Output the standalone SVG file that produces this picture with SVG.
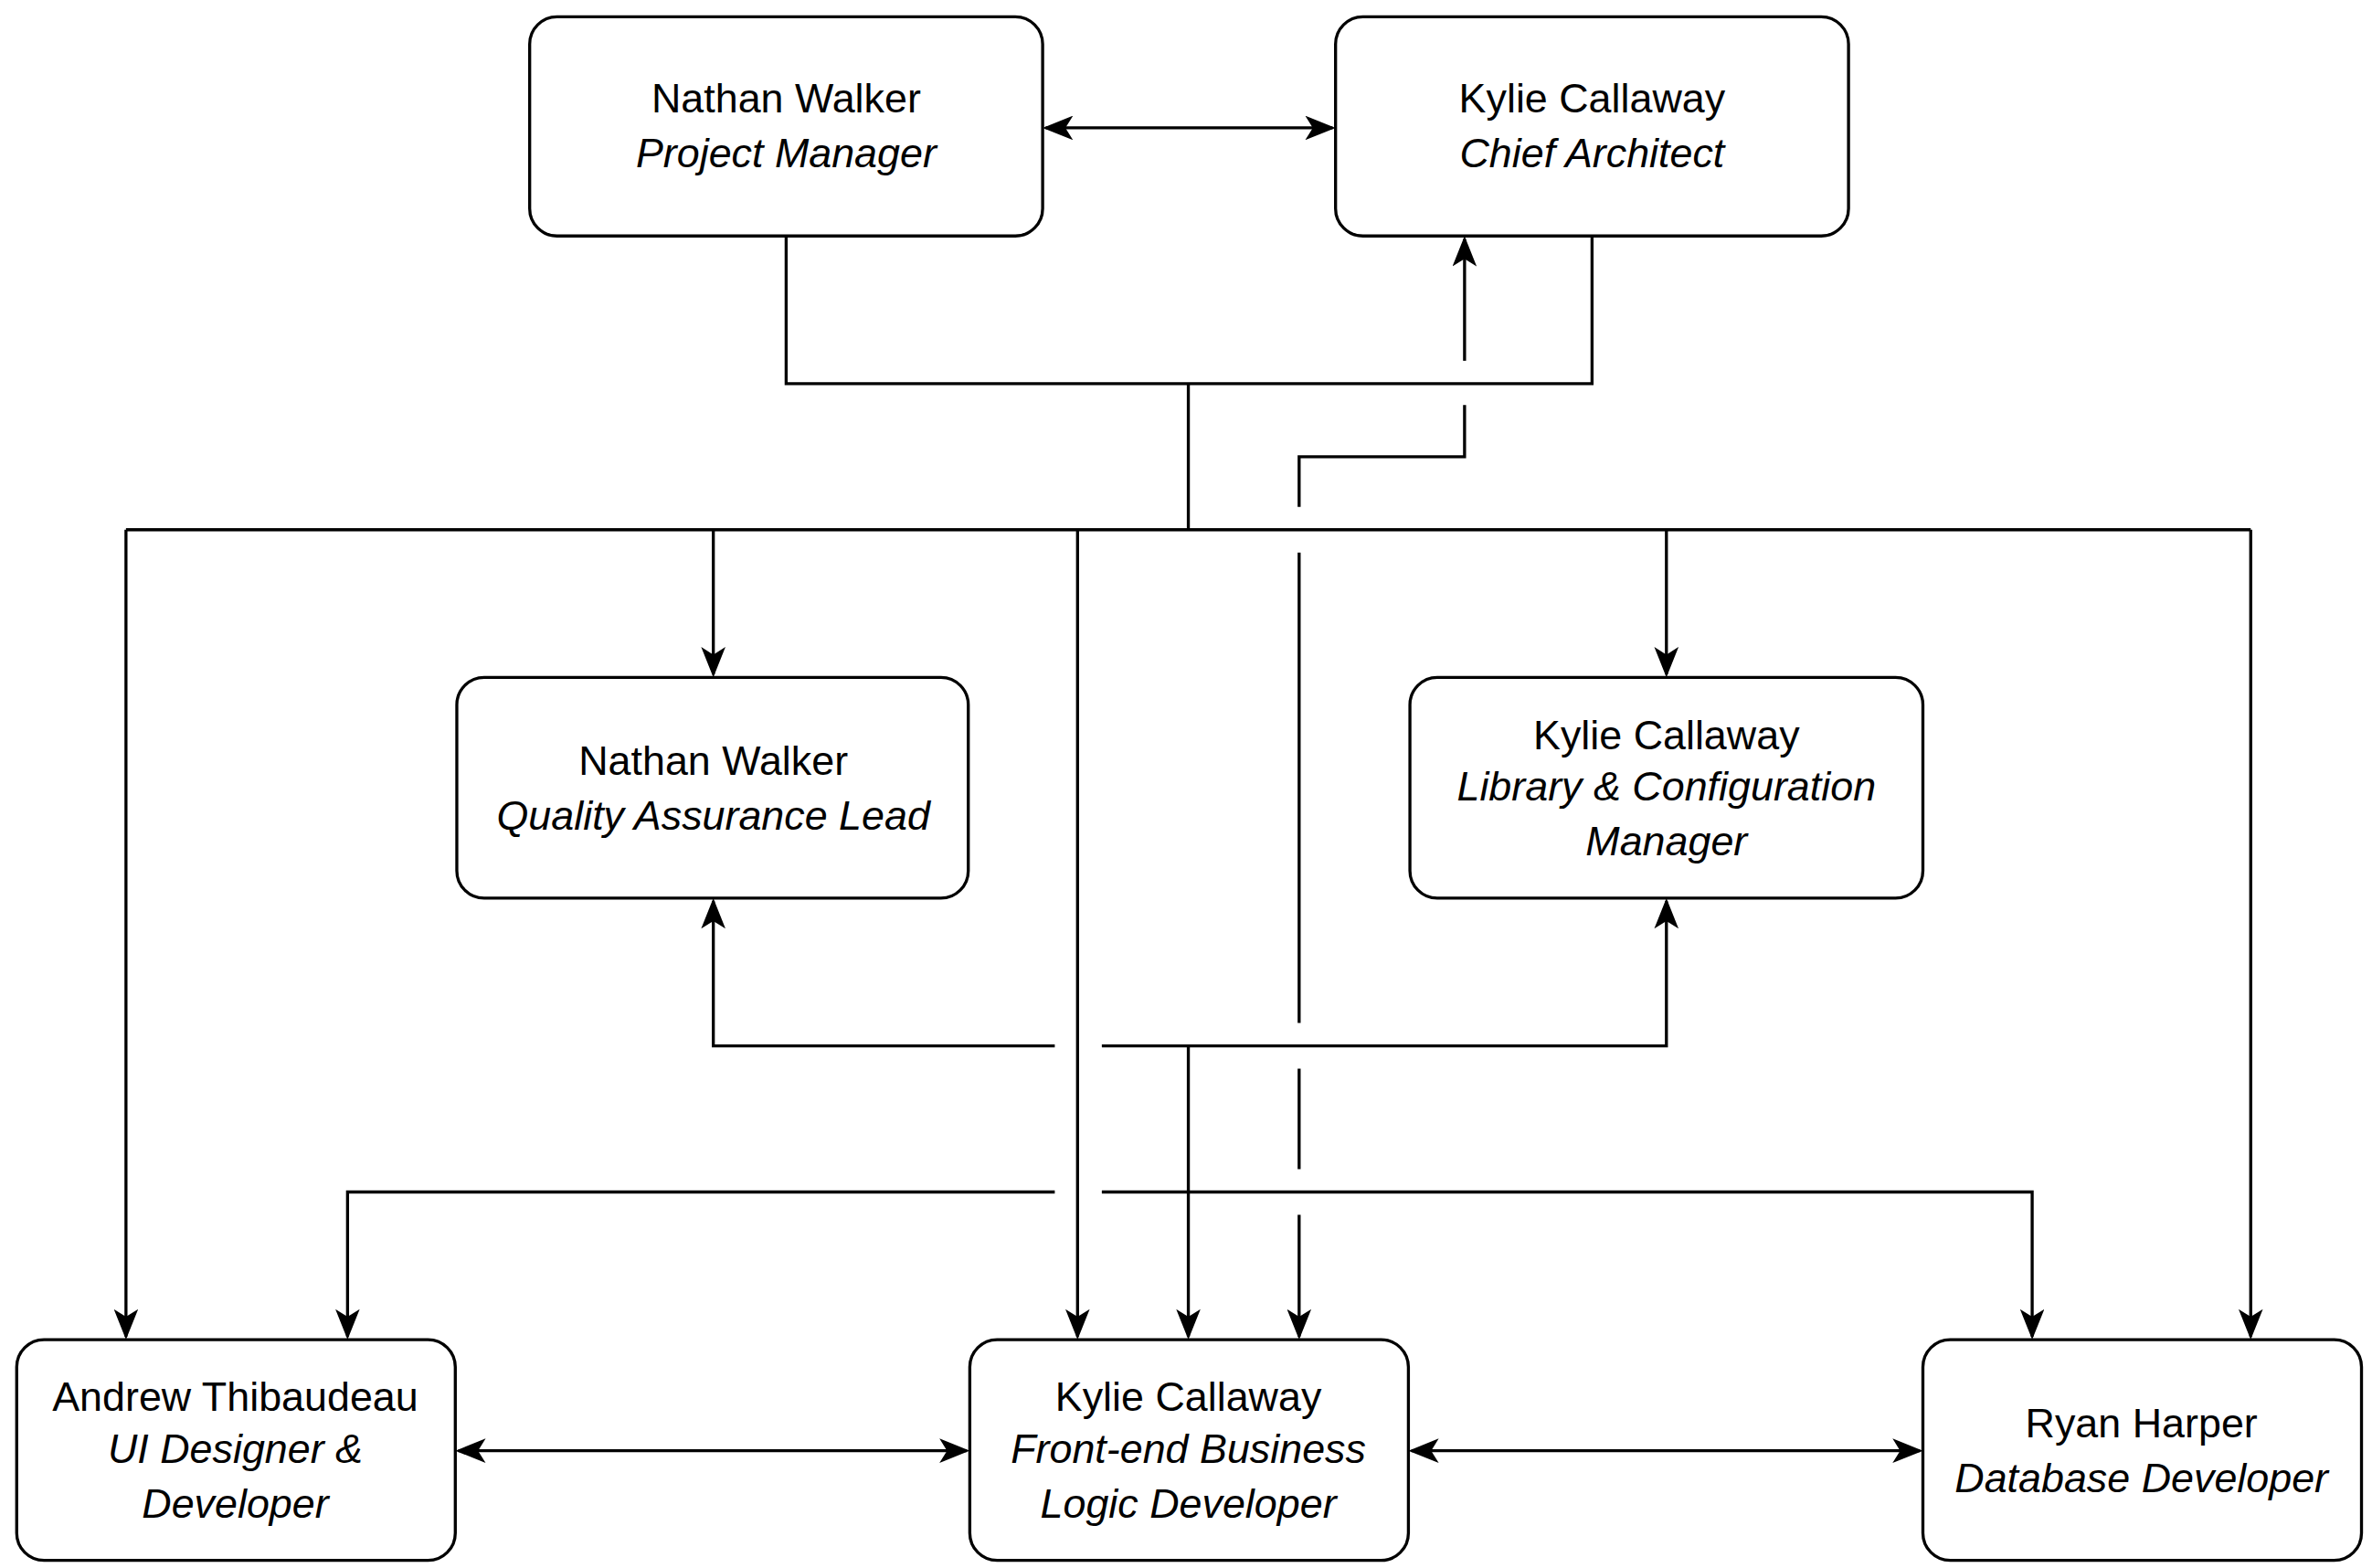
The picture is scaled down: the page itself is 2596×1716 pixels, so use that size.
<svg xmlns="http://www.w3.org/2000/svg" width="2596" height="1716" viewBox="0 0 2596 1716">
<style>
.n{fill:#fff;stroke:#000;stroke-width:2}
.t{font-family:"Liberation Sans",Arial,sans-serif;font-size:27px;text-anchor:middle;fill:#000}
.i{font-style:italic}
.c{fill:none;stroke:#000;stroke-width:2}
</style>
<defs>
<marker id="a" markerUnits="userSpaceOnUse" markerWidth="20" markerHeight="16" refX="18" refY="8" orient="auto-start-reverse" viewBox="0 0 20 16"><path d="M0,0 L20,8 L0,16 L5,8 Z" fill="#000"/></marker>
</defs>
<rect width="2596" height="1716" fill="#fff"/>
<g transform="scale(1.661,1.666)">
<g id="connectors">
<path class="c" d="M689,84 H878" marker-start="url(#a)" marker-end="url(#a)"/>
<path class="c" d="M518,155 V252 H1049 V155"/>
<path class="c" d="M783,252 V348"/>
<path class="c" d="M83,348 H1483"/>
<path class="c" d="M83,348 V878" marker-end="url(#a)"/>
<path class="c" d="M470,348 V443" marker-end="url(#a)"/>
<path class="c" d="M710,348 V878" marker-end="url(#a)"/>
<path class="c" d="M1098,348 V443" marker-end="url(#a)"/>
<path class="c" d="M1483,348 V878" marker-end="url(#a)"/>
<path class="c" d="M965,237 V157" marker-end="url(#a)"/>
<path class="c" d="M856,333 V300 H965 V266"/>
<path class="c" d="M856,363 V672"/>
<path class="c" d="M856,702 V768"/>
<path class="c" d="M856,798 V878" marker-end="url(#a)"/>
<path class="c" d="M695,687 H470 V592" marker-end="url(#a)"/>
<path class="c" d="M726,687 H1098 V592" marker-end="url(#a)"/>
<path class="c" d="M783,687 V878" marker-end="url(#a)"/>
<path class="c" d="M695,783 H229 V878" marker-end="url(#a)"/>
<path class="c" d="M726,783 H1339 V878" marker-end="url(#a)"/>
<path class="c" d="M302,953 H637" marker-start="url(#a)" marker-end="url(#a)"/>
<path class="c" d="M930,953 H1265" marker-start="url(#a)" marker-end="url(#a)"/>
</g>
<g id="pm"><rect class="n" x="349" y="11" width="338" height="144" rx="18"/><text class="t" x="518" y="74">Nathan Walker</text><text class="t i" x="518" y="110">Project Manager</text></g>
<g id="ca"><rect class="n" x="880" y="11" width="338" height="144" rx="18"/><text class="t" x="1049" y="74">Kylie Callaway</text><text class="t i" x="1049" y="110">Chief Architect</text></g>
<g id="qa"><rect class="n" x="301" y="445" width="337" height="145" rx="18"/><text class="t" x="470" y="509">Nathan Walker</text><text class="t i" x="470" y="545">Quality Assurance Lead</text></g>
<g id="lib"><rect class="n" x="929" y="445" width="338" height="145" rx="18"/><text class="t" x="1098" y="492">Kylie Callaway</text><text class="t i" x="1098" y="526">Library &amp; Configuration</text><text class="t i" x="1098" y="562">Manager</text></g>
<g id="ui"><rect class="n" x="11" y="880" width="289" height="145" rx="18"/><text class="t" x="155" y="927">Andrew Thibaudeau</text><text class="t i" x="155" y="961">UI Designer &amp;</text><text class="t i" x="155" y="997">Developer</text></g>
<g id="fe"><rect class="n" x="639" y="880" width="289" height="145" rx="18"/><text class="t" x="783" y="927">Kylie Callaway</text><text class="t i" x="783" y="961">Front-end Business</text><text class="t i" x="783" y="997">Logic Developer</text></g>
<g id="db"><rect class="n" x="1267" y="880" width="289" height="145" rx="18"/><text class="t" x="1411" y="944">Ryan Harper</text><text class="t i" x="1411" y="980">Database Developer</text></g>
</g>
</svg>
